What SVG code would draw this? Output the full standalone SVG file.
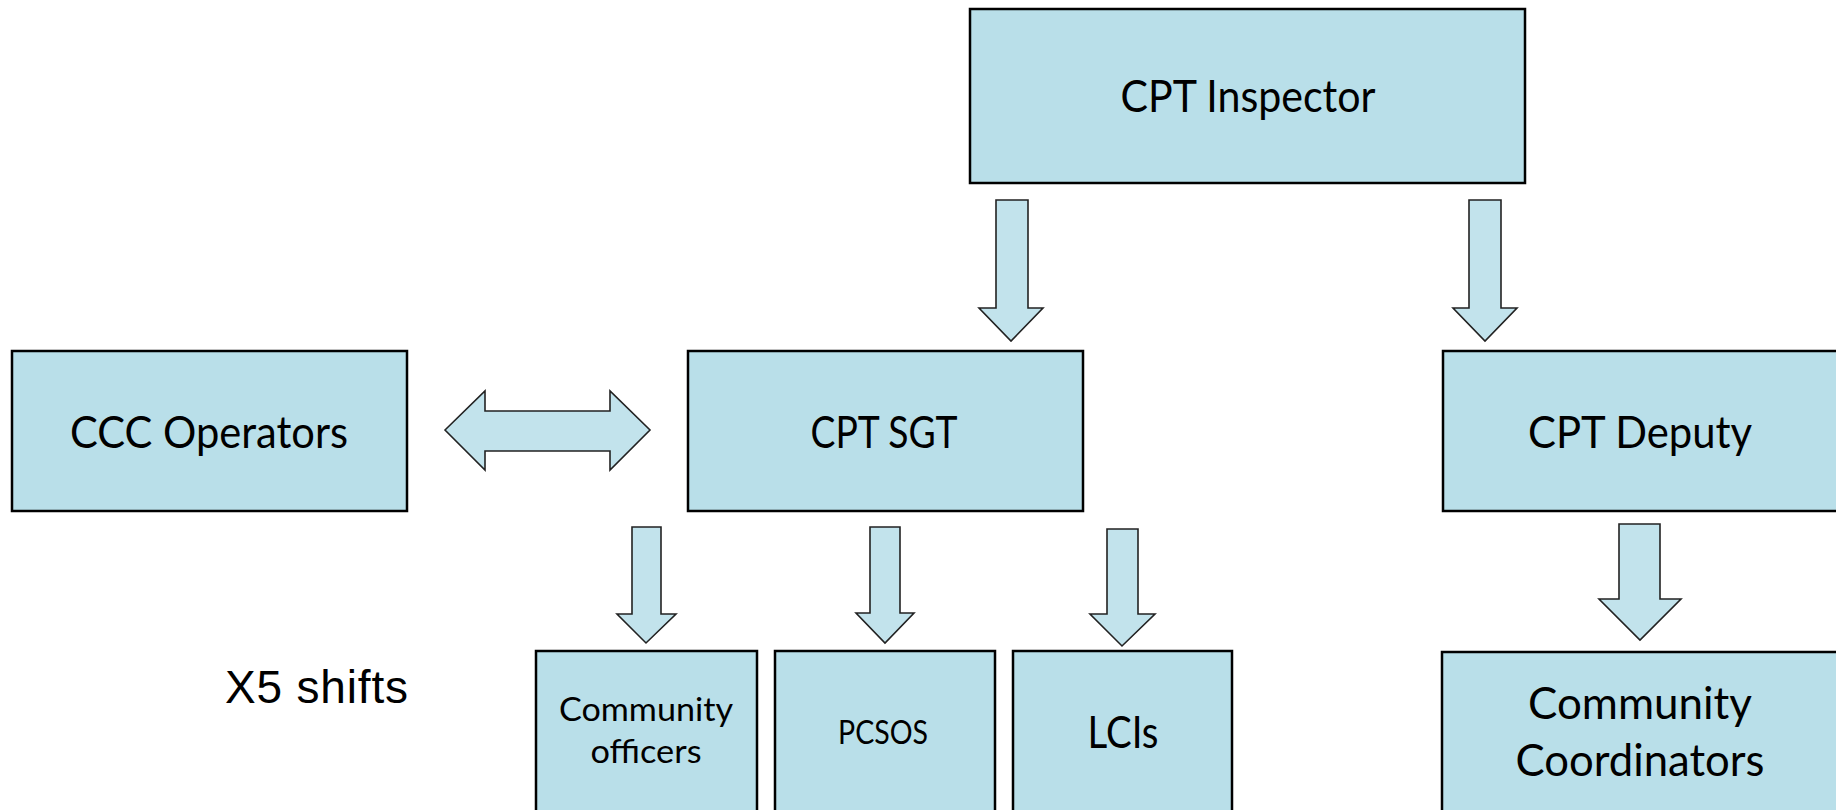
<svg xmlns="http://www.w3.org/2000/svg" width="1836" height="810" viewBox="0 0 1836 810">
  <style>
    .box { fill: #B9DFE9; stroke: #000000; stroke-width: 2.5; }
    .arrow { fill: #C2E3EC; stroke: #222222; stroke-width: 1.6; stroke-linejoin: miter; }
    .lbl { font-family: Lato, "Open Sans", "Liberation Sans", sans-serif; fill: #000000; text-anchor: middle; }
    .big { font-size: 44px; }
    .small { font-size: 33px; }
    .plain { font-family: "Liberation Sans", Arial, sans-serif; font-size: 46px; fill: #000000; }
  </style>
  <rect x="0" y="0" width="1836" height="810" fill="#FFFFFF"/>

  <g id="connectors">
    <polygon class="arrow" points="996,200 1028,200 1028,308 1043,308 1011,341 979,308 996,308"/>
    <polygon class="arrow" points="1469,200 1501,200 1501,308 1517,308 1485,341 1453,308 1469,308"/>
    <polygon class="arrow" points="445,430 485,391 485,411 610,411 610,391 650,430 610,470 610,451 485,451 485,470"/>
    <polygon class="arrow" points="632,527 661,527 661,614 676,614 646,643 617,614 632,614"/>
    <polygon class="arrow" points="870,527 900,527 900,613 914,613 885,643 856,613 870,613"/>
    <polygon class="arrow" points="1107,529 1138,529 1138,614 1155,614 1122,646 1090,614 1107,614"/>
    <polygon class="arrow" points="1619,524 1660,524 1660,599 1681,599 1640,640 1599,599 1619,599"/>
  </g>

  <g id="cpt-inspector">
    <rect class="box" x="970" y="9" width="555" height="174"/>
    <text class="lbl big" x="1248" y="112" textLength="255" lengthAdjust="spacingAndGlyphs">CPT Inspector</text>
  </g>

  <g id="ccc-operators">
    <rect class="box" x="12" y="351" width="395" height="160"/>
    <text class="lbl big" x="209" y="448" textLength="278" lengthAdjust="spacingAndGlyphs">CCC Operators</text>
  </g>

  <g id="cpt-sgt">
    <rect class="box" x="688" y="351" width="395" height="160"/>
    <text class="lbl big" x="884" y="448" textLength="147" lengthAdjust="spacingAndGlyphs">CPT SGT</text>
  </g>

  <g id="cpt-deputy">
    <rect class="box" x="1443" y="351" width="400" height="160"/>
    <text class="lbl big" x="1640" y="448" textLength="224" lengthAdjust="spacingAndGlyphs">CPT Deputy</text>
  </g>

  <g id="community-officers">
    <rect class="box" x="536" y="651" width="221" height="170"/>
    <text class="lbl small" x="646" y="721" textLength="174" lengthAdjust="spacingAndGlyphs">Community</text>
    <text class="lbl small" x="646" y="763" textLength="111" lengthAdjust="spacingAndGlyphs">officers</text>
  </g>

  <g id="pcsos">
    <rect class="box" x="775" y="651" width="220" height="170"/>
    <text class="lbl small" x="883" y="744" textLength="90" lengthAdjust="spacingAndGlyphs">PCSOS</text>
  </g>

  <g id="lcis">
    <rect class="box" x="1013" y="651" width="219" height="170"/>
    <text class="lbl big" x="1123" y="748" textLength="71" lengthAdjust="spacingAndGlyphs">LCIs</text>
  </g>

  <g id="community-coordinators">
    <rect class="box" x="1442" y="652" width="400" height="170"/>
    <text class="lbl big" x="1640" y="719" textLength="224" lengthAdjust="spacingAndGlyphs">Community</text>
    <text class="lbl big" x="1640" y="776" textLength="249" lengthAdjust="spacingAndGlyphs">Coordinators</text>
  </g>

  <g id="x5-shifts">
    <text class="plain" x="225" y="703" textLength="183">X5 shifts</text>
  </g>
</svg>
